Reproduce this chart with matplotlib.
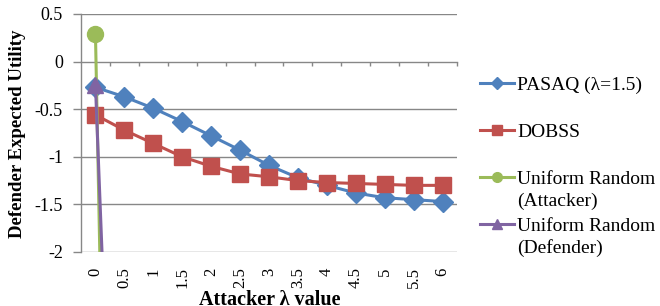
import matplotlib
matplotlib.use('Agg')
import matplotlib.pyplot as plt
from matplotlib.lines import Line2D

# Daten
lambdas = ['0', '0.5', '1', '1.5', '2', '2.5', '3', '3.5', '4', '4.5', '5', '5.5', '6']
pasaq = [-0.27, -0.37, -0.49, -0.63, -0.78, -0.93, -1.09, -1.22, -1.30, -1.38, -1.43, -1.45, -1.47]
dobss = [-0.56, -0.72, -0.86, -1.00, -1.10, -1.18, -1.21, -1.25, -1.27, -1.28, -1.29, -1.30, -1.30]
uniform_att = [0.29, -15.0]
uniform_def = [-0.25, -8.0]

C_BLUE = '#4F81BD'
C_RED = '#C0504D'
C_GREEN = '#9BBB59'
C_PURPLE = '#8064A2'
GRID = '#878787'

plt.rcParams['font.family'] = ['Liberation Serif', 'DejaVu Serif']

fig = plt.figure(figsize=(6.6, 3.06), dpi=100, facecolor='white')
W, H = 660, 306
ax = fig.add_axes([81 / W, 1 - 252 / H, 376 / W, 238 / H])

x = list(range(len(lambdas)))
ax.plot(x, pasaq, color=C_BLUE, lw=2.2, marker='D', ms=10, mec=C_BLUE, zorder=3)
ax.plot(x, dobss, color=C_RED, lw=2.2, marker='s', ms=11.5, mec=C_RED, zorder=3)
ax.plot(x[:len(uniform_att)], uniform_att, color=C_GREEN, lw=2.2, marker='o', ms=11.5, mec=C_GREEN, zorder=4)
ax.plot(x[:len(uniform_def)], uniform_def, color=C_PURPLE, lw=2.2, marker='^', ms=11.5, mec=C_PURPLE, zorder=5)

ax.set_xlim(-0.5, len(lambdas) - 0.5)
ax.set_ylim(-2, 0.5)
yt = [0.5, 0, -0.5, -1, -1.5, -2]
ax.set_yticks(yt)
ax.set_yticklabels(['0.5', '0', '-0.5', '-1', '-1.5', '-2'], fontsize=13)
for v in yt:
    if v != 0:
        ax.axhline(v, color=GRID, lw=1.0, zorder=1)

ax.set_xticks(x)
ax.set_xticklabels(lambdas, rotation=90, fontsize=12)
ax.tick_params(axis='x', length=0, pad=11)
ax.tick_params(axis='y', length=6, width=1, color=GRID, pad=7)

for s in ['top', 'right', 'bottom']:
    ax.spines[s].set_visible(False)
ax.spines['left'].set_color(GRID)
ax.spines['left'].set_linewidth(1.0)

# Kategorienachse bei y = 0
sec = ax.secondary_xaxis(0.8)
sec.set_xticks([i - 0.5 for i in range(1, len(lambdas) + 1)])
sec.set_xticklabels([])
sec.tick_params(direction='in', length=3, width=1, color=GRID)
sec.spines['top'].set_color(GRID)
sec.spines['top'].set_linewidth(1.0)
sec.spines['bottom'].set_color(GRID)
sec.spines['bottom'].set_linewidth(1.0)

fig.text(18 / W, 1 - 134 / H, 'Defender Expected Utility', rotation=90, fontsize=13.5,
         fontweight='bold', ha='center', va='center')
fig.text(270 / W, 1 - 305 / H, 'Attacker λ value', fontsize=14.5, fontweight='bold',
         ha='center', va='baseline')

# Legende
entries = [
    (C_BLUE, 'D', 6.5, ['PASAQ (λ=1.5)'], 83),
    (C_RED, 's', 7, ['DOBSS'], 130),
    (C_GREEN, 'o', 7, ['Uniform Random', '(Attacker)'], 177),
    (C_PURPLE, '^', 7.5, ['Uniform Random', '(Defender)'], 224),
]
for col, mk, ms, lines, yy in entries:
    fy = 1 - yy / H
    fig.add_artist(Line2D([480 / W, 514 / W], [fy, fy], color=col, lw=2.2,
                          transform=fig.transFigure))
    fig.add_artist(Line2D([497 / W], [fy], color=col, marker=mk, ms=ms, mec=col,
                          transform=fig.transFigure))
    for i, txt in enumerate(lines):
        fig.text(517 / W, 1 - (yy + 7 + 22 * i) / H, txt, fontsize=14, ha='left',
                 va='baseline')

fig.savefig('out.png', dpi=100, facecolor='white')
